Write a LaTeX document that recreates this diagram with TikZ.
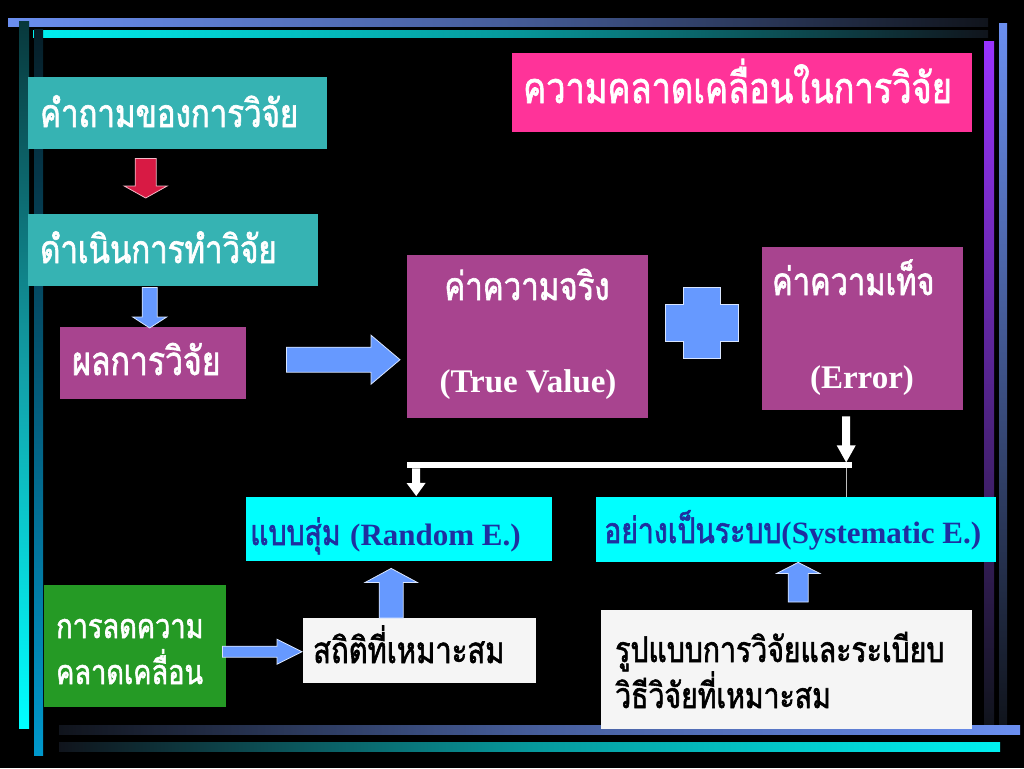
\documentclass[tikz,border=0pt]{standalone}
\usepackage{fontspec}
\setmainfont{Liberation Serif}
\newfontfamily\thai[Script=Thai,FakeStretch=0.8,FakeBold=1.6]{Loma}
\newfontfamily\lat{Liberation Serif}
\usetikzlibrary{calc}
\definecolor{tealbox}{HTML}{36B3B3}
\definecolor{purplebox}{HTML}{A8448F}
\definecolor{pinkbox}{HTML}{FF3399}
\definecolor{cyanbox}{HTML}{00FFFF}
\definecolor{greenbox}{HTML}{259A25}
\definecolor{whitebox}{HTML}{F5F5F5}
\definecolor{bluearrow}{HTML}{6699FF}
\definecolor{redarrow}{HTML}{D81A44}
\definecolor{darkbluetext}{HTML}{1F2FA0}
\definecolor{barblue}{HTML}{6B8FF0}
\definecolor{barcyan}{HTML}{00F0F0}
\definecolor{barpurple}{HTML}{9933FF}
\definecolor{bardark}{HTML}{10141C}
\definecolor{tealdark}{HTML}{08383C}
\definecolor{tealmid}{HTML}{12A0A8}
\definecolor{bluedark}{HTML}{061E28}
\definecolor{bluebot}{HTML}{0098CC}
\newcommand\barrow[6]{%
  \path let \p1=($(#3)-(#2)$) in \pgfextra{%
    \pgfmathsetmacro\baang{atan2(\y1,\x1)}%
    \pgfmathsetmacro\balen{veclen(\x1,\y1)}%
    \global\let\bang\baang \global\let\blen\balen};
  \pgfmathsetmacro\bsw{#4/2}%
  \pgfmathsetmacro\bhw{#5/2}%
  \pgfmathsetmacro\bhb{\blen-#6}%
  \begin{scope}[shift={(#2)},rotate=\bang]
    \filldraw[#1] (0pt,\bsw pt) -- (\bhb pt,\bsw pt) -- (\bhb pt,\bhw pt) -- (\blen pt,0pt)
      -- (\bhb pt,-\bhw pt) -- (\bhb pt,-\bsw pt) -- (0pt,-\bsw pt) -- cycle;
  \end{scope}}
\newcommand\tsize[1]{\fontsize{#1pt}{#1pt}\selectfont}
\begin{document}
\begin{tikzpicture}[x=1pt,y=-1pt,
  box/.style={draw=none,inner sep=0pt,anchor=north west},
  th/.style={font=\thai,text=white,inner sep=0pt},
  bigl/.style={font=\tsize{33}\lat\bfseries,text=white,inner sep=0pt},
  blueblk/.style={fill=bluearrow,draw=white!75!bluearrow,line width=0.8pt,line join=miter},
  redblk/.style={fill=redarrow,draw=white!70!redarrow,line width=0.8pt,line join=miter},
  whiteblk/.style={fill=white,draw=none}]
\useasboundingbox (0,0) rectangle (1024,768);
\fill[black] (0,0) rectangle (1024,768);
% frame bars
\shade[left color=barblue,right color=bardark,middle color=barblue!60!bardark] (8,19) rectangle (988,27);
\shade[left color=barcyan,right color=bardark,middle color=barcyan!60!bardark] (33,31) rectangle (988,38);
\shade[top color=tealdark,bottom color=cyanbox,middle color=tealmid] (19,22) rectangle (29,728);
\shade[top color=bluedark,bottom color=bluebot] (34,30) rectangle (43,755);
\shade[top color=barpurple,bottom color=bardark] (984,42) rectangle (994,725);
\shade[top color=barblue,bottom color=bardark] (999,24) rectangle (1007,725);
\shade[left color=bardark,right color=barblue,middle color=barblue!60!bardark] (59,725) rectangle (1020,734);
\shade[left color=bardark,right color=barcyan,middle color=barcyan!60!bardark] (59,742) rectangle (1000,751);
% boxes
\node[box,fill=pinkbox,minimum width=460pt,minimum height=79pt] (title) at (512,53) {};
\node[box,fill=tealbox,minimum width=299pt,minimum height=72pt] (q1) at (28,77) {};
\node[box,fill=tealbox,minimum width=290pt,minimum height=72pt] (q2) at (28,214) {};
\node[box,fill=purplebox,minimum width=186pt,minimum height=72pt] (res) at (60,327) {};
\node[box,fill=purplebox,minimum width=241pt,minimum height=163pt] (tv) at (407,255) {};
\node[box,fill=purplebox,minimum width=201pt,minimum height=163pt] (err) at (762,247) {};
\node[box,fill=cyanbox,minimum width=306pt,minimum height=64pt] (rand) at (246,497) {};
\node[box,fill=cyanbox,minimum width=400pt,minimum height=65pt] (sys) at (596,497) {};
\node[box,fill=greenbox,minimum width=182pt,minimum height=122pt] (red) at (44,585) {};
\node[box,fill=whitebox,minimum width=233pt,minimum height=65pt] (stat) at (303,618) {};
\node[box,fill=whitebox,minimum width=371pt,minimum height=119pt] (meth) at (601,610) {};
% texts
\node[th,anchor=base west] (titlet) at (523,103) {\tsize{43}ความคลาดเคลื่อนในการวิจัย};
\node[th,anchor=base west] (q1t) at (40,127) {\tsize{39}คำถามของการวิจัย};
\node[th,anchor=base west] (q2t) at (40,263) {\tsize{39}ดำเนินการทำวิจัย};
\node[th,anchor=base west] (rest) at (72,375) {\tsize{40}ผลการวิจัย};
\node[th,anchor=base] (tvt1) at (527,300) {\tsize{39}ค่าความจริง};
\node[bigl,anchor=base] (tvt2) at (528,392) {(True Value)};
\node[th,anchor=base west] (errt1) at (772,295) {\tsize{38.5}ค่าความเท็จ};
\node[bigl,anchor=base] (errt2) at (862,388) {(Error)};
\node[th,text=darkbluetext,anchor=base west] (randt) at (250,545) {\tsize{35.5}แบบสุ่ม {\lat\bfseries\tsize{31}(Random E.)}};
\node[th,text=darkbluetext,anchor=base west] (syst) at (604,543) {\tsize{35.5}อย่างเป็นระบบ{\lat\bfseries\tsize{31}(Systematic E.)}};
\node[th,anchor=base west] (redt1) at (56,638) {\tsize{34}การลดความ};
\node[th,anchor=base west] (redt2) at (56,684) {\tsize{34}คลาดเคลื่อน};
\node[th,text=black,anchor=base west] (statt) at (313,663) {\tsize{36.5}สถิติที่เหมาะสม};
\node[th,text=black,anchor=base west] (metht1) at (615,662) {\tsize{35.5}รูปแบบการวิจัยและระเบียบ};
\node[th,text=black,anchor=base west] (metht2) at (615,708) {\tsize{35.5}วิธีวิจัยที่เหมาะสม};
% connector coordinates
\coordinate (a1s) at ($(q1.south)+(-32,9)$);
\coordinate (a1e) at ($(q2.north)+(-27.5,-16)$);
\coordinate (a2s) at ($(q2.south)+(-23.5,1)$);
\coordinate (a2e) at ($(res.north)+(-3.5,1)$);
\coordinate (a3s) at ($(res.east)+(40,-3.5)$);
\coordinate (a3e) at ($(tv.west)+(-7,23)$);
\coordinate (a4s) at ($(stat.north)+(-28.5,0)$);
\coordinate (a4e) at ($(rand.south)+(-8,7)$);
\coordinate (a5s) at ($(meth.north)+(11.5,-8)$);
\coordinate (a5e) at ($(sys.south)+(2,0)$);
\coordinate (a6s) at ($(red.east)+(-4,5.5)$);
\coordinate (a6e) at ($(stat.west)+(-1,1)$);
\coordinate (barL) at ($(tv.south west)+(0,47)$);
\coordinate (barR) at ($(err.south)+(-10.5,55)$);
\coordinate (a7s) at ($(err.south)+(-16.5,6)$);
\coordinate (a7e) at ($(barR)+(-6,-3)$);
\coordinate (a8s) at ($(barL)+(9,3)$);
\coordinate (a8e) at ($(rand.north)+(17,-1)$);
\coordinate (l9s) at ($(barR)+(-6,3)$);
% block arrows
\barrow{redblk}{a1s}{a1e}{21}{43}{12}
\barrow{blueblk}{a2s}{a2e}{15}{34}{11}
\barrow{blueblk}{a3s}{a3e}{25}{49}{29}
\barrow{blueblk}{a4s}{a4e}{24}{52}{14}
\barrow{blueblk}{a5s}{a5e}{20}{43}{11}
\barrow{blueblk}{a6s}{a6e}{11}{25}{25}
% white connectors
\draw[white,line width=6pt] (barL) -- (barR);
\barrow{whiteblk}{a7s}{a7e}{8}{19}{17}
\barrow{whiteblk}{a8s}{a8e}{8}{19}{13}
\draw[white!75!black,line width=0.8pt] (l9s) -- (l9s |- sys.north);
% plus sign
\coordinate (plus) at ($(tv.east)!0.5!(err.west)+(-3.5,-10)$);
\filldraw[fill=bluearrow,draw=white!75!bluearrow,line width=0.8pt]
  ($(plus)+(-18.5,-35.5)$) -- ($(plus)+(18.5,-35.5)$) -- ($(plus)+(18.5,-18.5)$) -- ($(plus)+(36.5,-18.5)$)
  -- ($(plus)+(36.5,18.5)$) -- ($(plus)+(18.5,18.5)$) -- ($(plus)+(18.5,35.5)$) -- ($(plus)+(-18.5,35.5)$)
  -- ($(plus)+(-18.5,18.5)$) -- ($(plus)+(-36.5,18.5)$) -- ($(plus)+(-36.5,-18.5)$) -- ($(plus)+(-18.5,-18.5)$) -- cycle;
\end{tikzpicture}
\end{document}
